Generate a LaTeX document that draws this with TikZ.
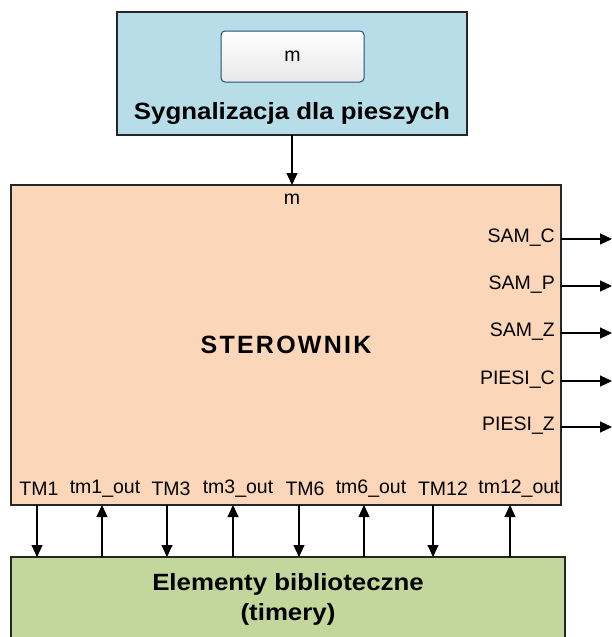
\documentclass[tikz,border=0pt]{standalone}
\usepackage{fontspec}
\setmainfont{Liberation Sans}
\newfontfamily\spacedbold[LetterSpace=9]{Liberation Sans}
\newfontfamily\widebold[FakeStretch=1.1]{Liberation Sans}
\usetikzlibrary{arrows.meta,shadings}
\definecolor{blueblk}{HTML}{B7DDE8}
\definecolor{orangeblk}{HTML}{FBD6B8}
\definecolor{greenblk}{HTML}{C3D69B}
\definecolor{btnborder}{HTML}{1F4E79}
\definecolor{edge}{HTML}{262626}
\tikzset{
  blk/.style={draw=edge, line width=1.6pt},
  lbl/.style={font=\fontsize{19.5}{22}\selectfont, inner sep=0pt},
  title/.style={font=\fontsize{23.5}{30}\widebold\bfseries, inner sep=0pt, align=center},
  sig/.style={-{Triangle[width=11pt,length=12pt]}, line width=1.2pt, black},
}
\begin{document}
\begin{tikzpicture}[x=1pt,y=-1pt]
\useasboundingbox (0,0) rectangle (612,637);
% top block
\draw[blk, fill=blueblk] (117,12) rectangle (467,135);
\node[draw=btnborder, line width=1pt, rounded corners=4pt, top color=white, bottom color=black!9,
      minimum width=143pt, minimum height=51pt, inner sep=0pt] (btn) at (292.5,56.5) {\fontsize{19.5}{22}\selectfont m};
\node[title, anchor=base] (sygn) at (292,119) {Sygnalizacja dla pieszych};
\coordinate (topout) at (292,135);
% controller
\draw[blk, fill=orangeblk] (11,185) rectangle (561,505);
\coordinate (ctrin) at (292,185);
\node[lbl] (min) at (292,199) {m};
\node[font=\fontsize{25}{28}\spacedbold\bfseries, inner sep=0pt, anchor=base] (ster) at (286,353) {STEROWNIK};
% right outputs
\foreach \n/\t/\y in {c/SAM\_C/239, p/SAM\_P/286, z/SAM\_Z/333, pc/PIESI\_C/381, pz/PIESI\_Z/427}{
  \node[lbl, anchor=east] (o\n) at (555,\y-1) {\t};
  \coordinate (os\n) at (561,\y);
  \coordinate (oe\n) at (612,\y);
  \draw[sig] (os\n) -- (oe\n);
}
% green block
\draw[blk, fill=greenblk] (11,557) rectangle (565,645);
\node[title, anchor=base] (lib) at (288,590) {Elementy biblioteczne};
\node[title, anchor=base] (lib2) at (288,620) {(timery)};
% bottom labels and arrows
\foreach \n/\t/\x/\lx/\d in {a/TM1/37/39/0, b/tm1\_out/102/105/1, c/TM3/167/171/0, d/tm3\_out/233/238/1, e/TM6/299/305/0, f/tm6\_out/364/371/1, g/TM12/433/443/0, h/tm12\_out/510/519/1}{
  \node[lbl] (b\n) at (\lx,489) {\t};
  \coordinate (bt\n) at (\x,505);
  \coordinate (bb\n) at (\x,557);
  \ifnum\d=0 \draw[sig] (bt\n) -- (bb\n); \else \draw[sig] (bb\n) -- (bt\n); \fi
}
\draw[sig] (topout) -- (ctrin);
\end{tikzpicture}
\end{document}
